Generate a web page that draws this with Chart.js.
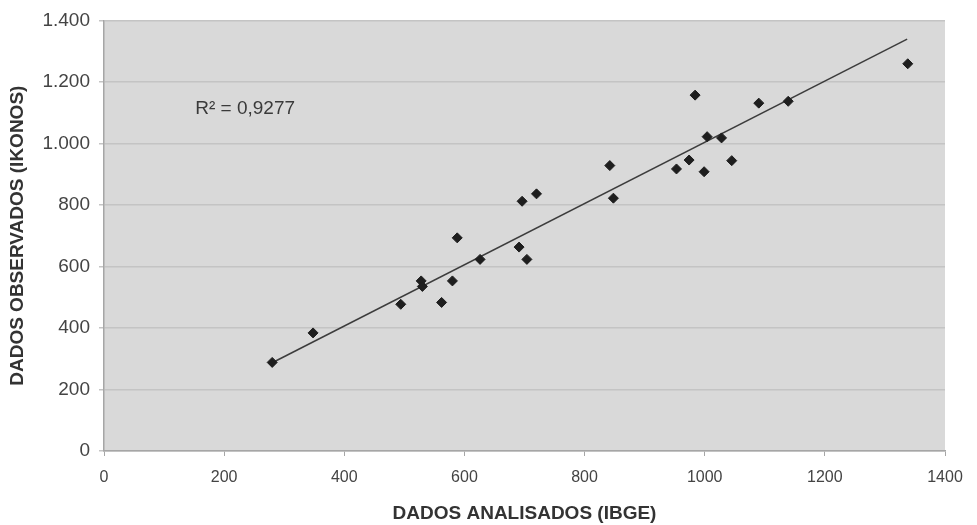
<!DOCTYPE html>
<html>
<head>
<meta charset="utf-8">
<script src="https://cdn.jsdelivr.net/npm/chart.js@4.4.0/dist/chart.umd.min.js"></script>
<style>
  html, body { margin: 0; padding: 0; background: #fff; }
  #wrap { width: 977px; height: 525px; }
</style>
</head>
<body>
<div id="wrap"><canvas id="chart"></canvas></div>
<script>
// values
const ibge = [280, 348, 494, 528, 530, 562, 580, 588, 626, 691, 696, 704, 720,
              842, 848, 953, 974, 984, 999, 1004, 1028, 1045, 1090, 1139, 1338];
const ikonos = [288, 384, 477, 553, 535, 483, 553, 693, 623, 663, 812, 623, 836,
                928, 822, 917, 946, 1157, 908, 1022, 1018, 944, 1131, 1137, 1259];
const trendX = [280, 1337];
const trendY = [287, 1339];
const r2Label = "R² = 0,9277";
const r2Pos = { x: 235, y: 1113 };

const points = ibge.map((x, i) => ({ x, y: ikonos[i] }));
const trend = trendX.map((x, i) => ({ x, y: trendY[i] }));

function fmtThousands(v) {
  if (v < 1000) return String(v);
  return Math.floor(v / 1000) + "." + String(v % 1000).padStart(3, "0");
}

const plotBg = {
  id: "plotBg",
  beforeDraw(chart) {
    const { ctx, chartArea: a } = chart;
    ctx.save();
    ctx.fillStyle = "#d9d9d9";
    ctx.fillRect(a.left, a.top, a.right - a.left, a.bottom - a.top);
    ctx.restore();
  },
  afterDatasetsDraw(chart) {
    const { ctx, scales } = chart;
    ctx.save();
    ctx.font = "19px 'Liberation Sans', Arial, sans-serif";
    ctx.fillStyle = "#3a3a3a";
    ctx.textAlign = "center";
    ctx.textBaseline = "middle";
    ctx.fillText(r2Label, scales.x.getPixelForValue(r2Pos.x), scales.y.getPixelForValue(r2Pos.y));
    ctx.restore();
  }
};

const sans = "'Liberation Sans', Arial, sans-serif";
const titleFont = { family: sans, size: 19, weight: "bold" };

new Chart(document.getElementById("chart"), {
  type: "scatter",
  data: {
    datasets: [
      {
        data: points,
        pointStyle: "rectRot",
        pointRadius: 5,
        backgroundColor: "#1e1e1e",
        borderColor: "#1e1e1e",
        borderWidth: 1
      },
      {
        type: "line",
        data: trend,
        borderColor: "#3c3c3c",
        borderWidth: 1.5,
        pointRadius: 0,
        fill: false
      }
    ]
  },
  options: {
    responsive: true,
    maintainAspectRatio: false,
    animation: false,
    layout: { padding: { left: 2, right: 32, top: 19, bottom: 0 } },
    plugins: { legend: { display: false }, tooltip: { enabled: false } },
    scales: {
      x: {
        type: "linear",
        min: 0, max: 1400,
        ticks: { stepSize: 200, color: "#444", padding: 12,
                 font: { family: "'Liberation Sans Narrow', " + sans, size: 16 },
                 callback: v => String(v) },
        grid: { display: true, drawOnChartArea: false, tickLength: 5, color: "#a6a6a6" },
        border: { color: "#a6a6a6", width: 1.5 },
        title: { display: true, text: "DADOS ANALISADOS (IBGE)", color: "#333", font: titleFont, padding: { top: 4, bottom: 0 } },
        afterFit(scale) { scale.height = 74; }
      },
      y: {
        type: "linear",
        min: 0, max: 1400,
        ticks: { stepSize: 200, color: "#444", font: { family: sans, size: 19 }, padding: 9,
                 callback: v => fmtThousands(v) },
        grid: { color: "#c4c4c4", lineWidth: 1.5, tickLength: 5 },
        border: { color: "#a6a6a6", width: 1.5 },
        title: { display: true, text: "DADOS OBSERVADOS (IKONOS)", color: "#333", font: titleFont, padding: { top: 4, bottom: 4 } },
        afterFit(scale) { scale.width = 102; }
      }
    }
  },
  plugins: [plotBg]
});
</script>
</body>
</html>
